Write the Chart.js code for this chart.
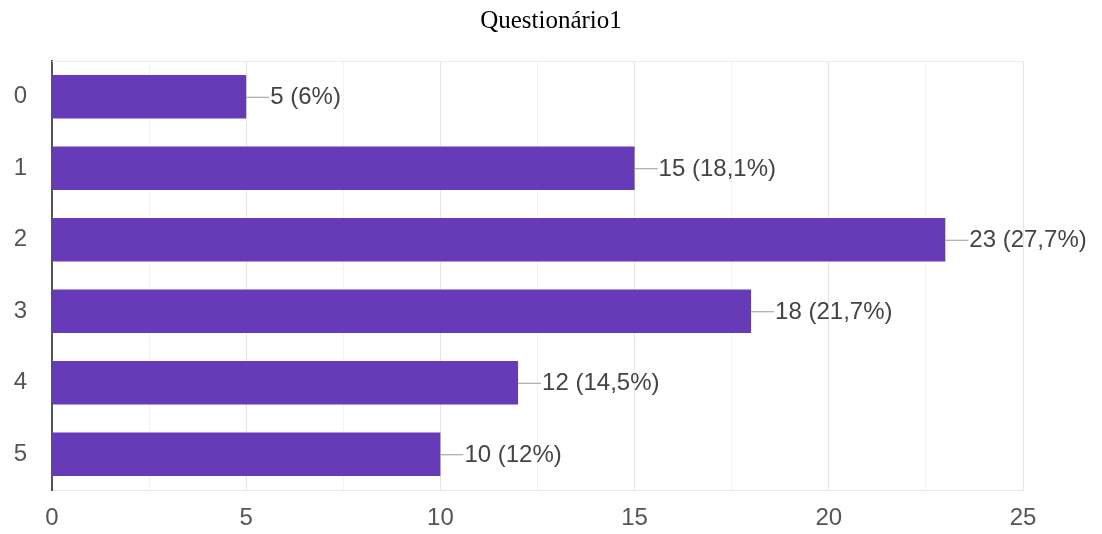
<!DOCTYPE html>
<html>
<head>
<meta charset="utf-8">
<script src="https://cdn.jsdelivr.net/npm/chart.js@4"></script>
<style>
  html, body { margin: 0; padding: 0; background: #fff; }
  #wrap { width: 1102px; height: 534px; }
</style>
</head>
<body>
<div id="wrap"><canvas id="chart"></canvas></div>
<script>
// ====================== DATA ======================
const titleText = "Questionário1";
const categories = ["0", "1", "2", "3", "4", "5"];
const counts = [5, 15, 23, 18, 12, 10];
const percents = ["6%", "18,1%", "27,7%", "21,7%", "14,5%", "12%"];
const xMax = 25;

// ====================== PLUGINS ======================
// value labels with little connector line, like Google Forms
const barLabels = {
  id: "barLabels",
  afterDatasetsDraw(chart) {
    const ctx = chart.ctx;
    const meta = chart.getDatasetMeta(0);
    ctx.save();
    ctx.font = "24px 'Liberation Sans', Arial, sans-serif";
    ctx.fillStyle = "#444";
    ctx.strokeStyle = "#999";
    ctx.lineWidth = 1;
    ctx.textBaseline = "middle";
    meta.data.forEach((bar, i) => {
      ctx.beginPath();
      ctx.moveTo(bar.x, bar.y + 0.5);
      ctx.lineTo(bar.x + 23, bar.y + 0.5);
      ctx.stroke();
      ctx.fillText(counts[i] + " (" + percents[i] + ")", bar.x + 24, bar.y + 1);
    });
    ctx.restore();
  }
};

// title centred over the whole canvas + light top border of plot area
const frame = {
  id: "frame",
  beforeDatasetsDraw(chart) {
    const { ctx, chartArea } = chart;
    ctx.save();
    ctx.strokeStyle = "#ececec";
    ctx.lineWidth = 1;
    ctx.beginPath();
    ctx.moveTo(chartArea.left, chartArea.top + 0.5);
    ctx.lineTo(chartArea.right, chartArea.top + 0.5);
    ctx.stroke();
    ctx.restore();
  },
  afterDraw(chart) {
    const ctx = chart.ctx;
    ctx.save();
    ctx.font = "25px 'Liberation Serif', 'Times New Roman', serif";
    ctx.fillStyle = "#000";
    ctx.textAlign = "center";
    ctx.textBaseline = "middle";
    ctx.fillText(titleText, chart.width / 2, 21);
    ctx.restore();
  }
};

// ====================== CHART ======================
const ctx = document.getElementById("chart").getContext("2d");
new Chart(ctx, {
  type: "bar",
  data: {
    labels: categories,
    datasets: [{
      data: counts,
      backgroundColor: "#673ab7",
      borderWidth: 0,
      barPercentage: 0.61,
      categoryPercentage: 1
    }]
  },
  options: {
    indexAxis: "y",
    responsive: true,
    maintainAspectRatio: false,
    animation: false,
    layout: { padding: { left: 0, right: 79, top: 61, bottom: 0 } },
    plugins: {
      legend: { display: false },
      tooltip: { enabled: false },
      title: { display: false }
    },
    scales: {
      x: {
        min: 0,
        max: xMax,
        afterFit(scale) { scale.height = 44; },
        ticks: {
          stepSize: 2.5,
          color: "#555",
          padding: 14,
          maxRotation: 0,
          font: { family: "'Liberation Sans', Arial, sans-serif", size: 24 },
          callback: (v) => (v % 5 === 0 ? v : "")
        },
        grid: {
          drawTicks: false,
          color: (c) => (c.tick && c.tick.value % 5 === 0 ? "#e4e4e4" : "#f2f2f2")
        },
        border: { display: true, color: "#e8e8e8" }
      },
      y: {
        afterFit(scale) { scale.width = 52; },
        ticks: {
          color: "#555",
          padding: 25,
          font: { family: "'Liberation Sans', Arial, sans-serif", size: 24 }
        },
        grid: { display: false, drawTicks: false },
        border: { display: true, color: "#555", width: 2 }
      }
    }
  },
  plugins: [barLabels, frame]
});
</script>
</body>
</html>
